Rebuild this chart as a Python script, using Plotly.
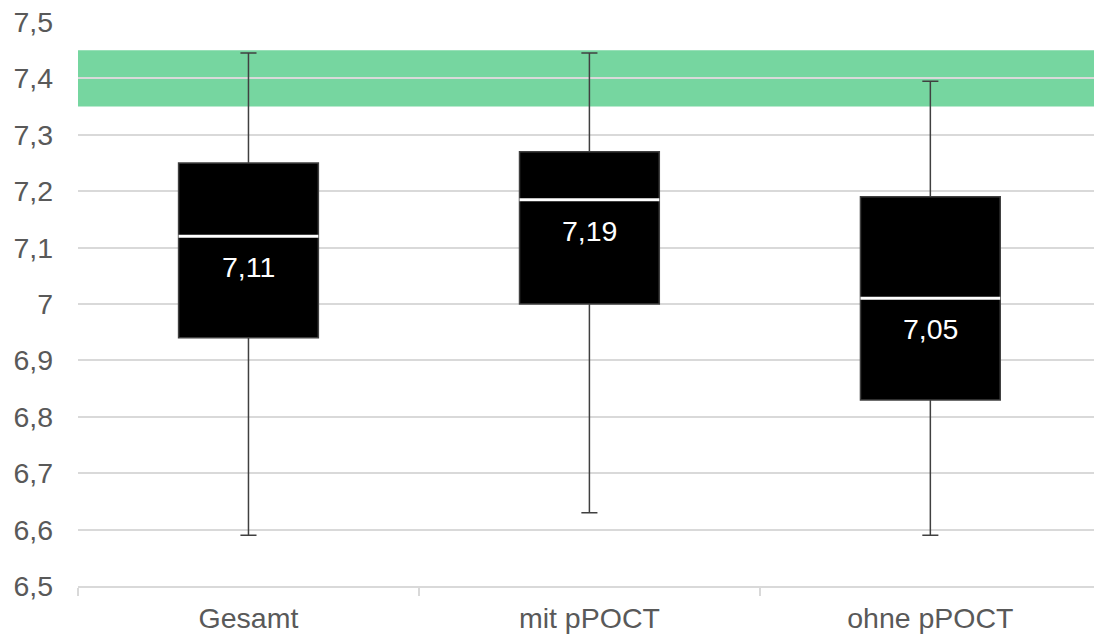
import plotly.graph_objects as go

# pH summary per group
categories = ["Gesamt", "mit pPOCT", "ohne pPOCT"]
lower_whisker = [6.59, 6.63, 6.59]
q1 = [6.94, 7.00, 6.83]
median = [7.12, 7.185, 7.01]
q3 = [7.25, 7.27, 7.19]
upper_whisker = [7.445, 7.445, 7.395]
mean_labels = ["7,11", "7,19", "7,05"]

# normal range band
normal_low = 7.35
normal_high = 7.45

y_tickvals = [6.5, 6.6, 6.7, 6.8, 6.9, 7.0, 7.1, 7.2, 7.3, 7.4, 7.5]
y_ticktext = ["6,5", "6,6", "6,7", "6,8", "6,9", "7", "7,1", "7,2", "7,3", "7,4", "7,5"]

FONT = "Liberation Sans, Arial, sans-serif"
FS = 28.5
BOX_W = 0.41

fig = go.Figure()
fig.add_trace(go.Box(
    x=categories,
    q1=q1,
    median=median,
    q3=q3,
    lowerfence=lower_whisker,
    upperfence=upper_whisker,
    fillcolor="#000000",
    line=dict(color="#404040", width=1.5),
    width=BOX_W,
    whiskerwidth=0.115,
    boxpoints=False,
    hoverinfo="skip",
    showlegend=False,
))

# green reference band behind the grid
fig.add_shape(type="rect", xref="paper", yref="y", x0=0, x1=1,
              y0=normal_low, y1=normal_high, fillcolor="#76D6A0",
              line=dict(width=0), layer="below")

# white median lines and value labels
for i, cat in enumerate(categories):
    fig.add_shape(type="line", xref="x", yref="y",
                  x0=i - BOX_W / 2, x1=i + BOX_W / 2,
                  y0=median[i], y1=median[i],
                  line=dict(color="#FFFFFF", width=3), layer="above")
    fig.add_annotation(x=cat, y=median[i], text=mean_labels[i],
                       showarrow=False, yshift=-31,
                       font=dict(family=FONT, size=FS, color="#FFFFFF"))

fig.update_layout(
    width=1094, height=637,
    margin=dict(l=78, r=0, t=21.5, b=51),
    paper_bgcolor="white", plot_bgcolor="white",
    font=dict(family=FONT, size=FS, color="#595959"),
    separators=",.",
)
fig.update_yaxes(
    range=[6.5, 7.5],
    tickvals=y_tickvals, ticktext=y_ticktext,
    showgrid=True, gridcolor="#D9D9D9", gridwidth=1.5,
    zeroline=False, showline=False, ticks="",
    ticklabelstandoff=24,
    tickfont=dict(family=FONT, size=FS, color="#595959"),
)
fig.update_xaxes(
    range=[-0.5, 2.48],
    showgrid=False, zeroline=False,
    showline=True, linecolor="#D9D9D9", linewidth=1.5,
    ticks="outside", tickson="boundaries", ticklen=8,
    tickcolor="#D9D9D9", tickwidth=1.5,
    ticklabelstandoff=6,
    tickfont=dict(family=FONT, size=FS, color="#595959"),
)

fig.write_html("out.html")
